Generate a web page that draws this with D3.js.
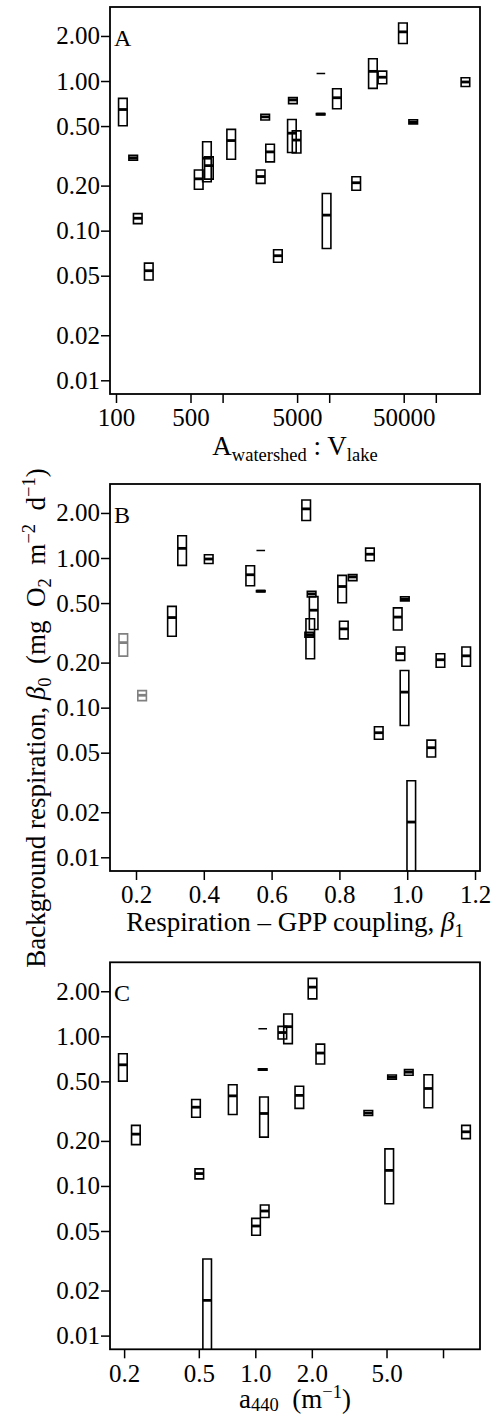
<!DOCTYPE html>
<html>
<head>
<meta charset="utf-8">
<script src="https://cdn.jsdelivr.net/npm/d3@7"></script>
<style>
body { margin: 0; background: #fff; }
svg text { font-family: "Liberation Serif", "Times New Roman", serif; fill: #000; }
</style>
</head>
<body>
<div id="chart"></div>
<script>
// background respiration interval per lake (mg O2 m-2 d-1): upper, median, lower
var respHi  = [0.765, 0.319, 0.130, 0.0607, 0.254, 0.393, 0.311, 0.475, 0.254, 0.599, 0.378, 0.0746, 0.774,
               0.553, 0.464, 1.123, 0.606, 0.177, 0.887, 0.229, 1.41, 1.165, 2.44, 0.551, 1.051, 0.0325];
var respMed = [0.645, 0.307, 0.121, 0.054, 0.222, 0.305, 0.272, 0.400, 0.230, 0.576, 0.336, 0.068, 0.747,
               0.448, 0.403, 1.123, 0.601, 0.127, 0.773, 0.209, 1.16, 1.06, 2.13, 0.532, 0.985, 0.0172];
var respLo  = [0.502, 0.296, 0.1115, 0.0468, 0.189, 0.212, 0.221, 0.300, 0.207, 0.549, 0.288, 0.0615, 0.706,
               0.333, 0.330, 1.123, 0.594, 0.076, 0.653, 0.186, 0.893, 0.959, 1.78, 0.517, 0.920, 0.005];

// predictors (null = not available for that lake)
var watershedRatio = [116, 145, 160, 203, 597, 713, 744, 1204, 2277, 2509, 2790, 3302, 4565,
                      4467, 4945, 8356, 8318, 9454, 11810, 17920, 25700, 31550, 49140, 61390, 189600, null];
var couplingBeta1  = [0.808, 0.711, 0.218, 1.071, 1.174, 0.714, 0.1625, 0.306, 0.980, 0.718, 0.813, 0.916, 0.839,
                      0.724, 0.972, 0.568, 0.568, 0.992, 0.537, 1.098, 0.336, 0.890, 0.702, 0.993, 0.4145, 1.012];
var a440           = [0.197, 4.0, 0.503, 1.009, 0.231, 1.112, null, 0.758, 13.26, 6.57, 0.483, 1.122, null,
                      8.35, 1.716, 1.095, 1.095, 5.17, 2.22, null, 1.494, 1.393, 2.017, 5.35, null, 0.554];

// lakes shown in grey in panel B
var greyLakesB = [2, 6];

var yTicks = [0.01, 0.02, 0.05, 0.1, 0.2, 0.5, 1, 2];
var yTickLabels = ["0.01", "0.02", "0.05", "0.10", "0.20", "0.50", "1.00", "2.00"];
var xTicksA = [100, 500, 1000, 5000, 10000, 50000, 100000];
var xTickLabelsA = ["100", "500", "", "5000", "", "50000", ""];
var xTicksB = [0.2, 0.4, 0.6, 0.8, 1.0, 1.2];
var xTickLabelsB = ["0.2", "0.4", "0.6", "0.8", "1.0", "1.2"];
var xTicksC = [0.2, 0.5, 1, 2, 5, 10];
var xTickLabelsC = ["0.2", "0.5", "1.0", "2.0", "5.0", ""];

function init() {
    var w = 497, h = 1414;
    var left = 110, right = 480, ph = 387;
    var bw = 8.6;
    var font = "Liberation Serif";

    var svg = d3.select("#chart").append("svg")
        .attr("width", w).attr("height", h);

    var panels = [
        { letter: "A", top: 7, x: d3.scaleLog().domain([87.86, 259800]), xv: watershedRatio,
          ticks: xTicksA, labels: xTickLabelsA },
        { letter: "B", top: 484, x: d3.scaleLinear().domain([0.1233, 1.2147]), xv: couplingBeta1,
          ticks: xTicksB, labels: xTickLabelsB },
        { letter: "C", top: 962.3, x: d3.scaleLog().domain([0.1682, 15.74]), xv: a440,
          ticks: xTicksC, labels: xTickLabelsC }
    ];

    panels.forEach(function(p, pi) {
        var bottom = p.top + ph;
        p.x.range([left, right]);
        var y = d3.scaleLog().domain([0.008099, 3.123]).range([bottom, p.top]);

        var clipId = "clip" + pi;
        svg.append("clipPath").attr("id", clipId)
            .append("rect").attr("x", left).attr("y", p.top)
            .attr("width", right - left).attr("height", ph);

        var lakes = d3.range(respMed.length).filter(function(i) { return p.xv[i] != null; });
        var colour = function(i) {
            return (p.letter == "B" && greyLakesB.indexOf(i) >= 0) ? "#808080" : "#000";
        };

        var g = svg.append("g").attr("clip-path", "url(#" + clipId + ")");

        // interval box as a closed path, so a zero-width interval still shows as a dash
        g.selectAll("path.box")
            .data(lakes)
            .enter()
            .append("path")
                .attr("class", "box")
                .attr("d", function(i) {
                    var x0 = p.x(p.xv[i]) - bw / 2, y0 = y(respHi[i]), y1 = y(respLo[i]);
                    return "M" + x0 + "," + y0 + "h" + bw + "V" + y1 + "h" + (-bw) + "Z";
                })
                .attr("fill", "none")
                .attr("stroke", colour)
                .attr("stroke-width", 1.6);

        // median bar (skipped when the interval has no width)
        g.selectAll("line.med")
            .data(lakes.filter(function(i) { return respHi[i] > respLo[i]; }))
            .enter()
            .append("line")
                .attr("class", "med")
                .attr("x1", function(i) { return p.x(p.xv[i]) - bw / 2; })
                .attr("x2", function(i) { return p.x(p.xv[i]) + bw / 2; })
                .attr("y1", function(i) { return y(respMed[i]); })
                .attr("y2", function(i) { return y(respMed[i]); })
                .attr("stroke", colour)
                .attr("stroke-width", 2.8);

        // frame
        svg.append("rect")
            .attr("x", left).attr("y", p.top)
            .attr("width", right - left).attr("height", ph)
            .attr("fill", "none").attr("stroke", "#000").attr("stroke-width", 1.8);

        var yAxis = d3.axisLeft(y)
            .tickValues(yTicks)
            .tickFormat(function(d, i) { return yTickLabels[i]; })
            .tickSize(9).tickSizeOuter(0).tickPadding(1);
        var gy = svg.append("g").attr("transform", "translate(" + left + ",0)").call(yAxis);

        var xAxis = d3.axisBottom(p.x)
            .tickValues(p.ticks)
            .tickFormat(function(d, i) { return p.labels[i]; })
            .tickSize(9).tickSizeOuter(0).tickPadding(5.5);
        var gx = svg.append("g").attr("transform", "translate(0," + bottom + ")").call(xAxis);

        [gy, gx].forEach(function(ax) {
            ax.select(".domain").remove();
            ax.selectAll("line").attr("stroke", "#000").attr("stroke-width", 1.5);
            ax.selectAll("text")
                .attr("fill", "#000")
                .style("font-family", font)
                .style("font-size", "25px");
        });

        svg.append("text")
            .attr("x", 114).attr("y", p.top + 38.5)
            .style("font-size", "24px")
            .text(p.letter);
    });

    function sub(t, s, shift) {
        t.append("tspan").style("font-size", "18.5px").attr("baseline-shift", shift).text(s);
    }

    // x axis titles
    var tA = svg.append("text").attr("x", 295).attr("y", 455).attr("text-anchor", "middle").style("font-size", "27px");
    tA.append("tspan").text("A");
    sub(tA, "watershed", "-6");
    tA.append("tspan").text(" : V");
    sub(tA, "lake", "-6");

    var tB = svg.append("text").attr("x", 295).attr("y", 930.5).attr("text-anchor", "middle").style("font-size", "27px");
    tB.append("tspan").text("Respiration \u2013 GPP coupling, ");
    tB.append("tspan").attr("font-style", "italic").text("\u03b2");
    sub(tB, "1", "-6");

    var tC = svg.append("text").attr("x", 295).attr("y", 1408).attr("text-anchor", "middle").style("font-size", "27px");
    tC.append("tspan").text("a");
    sub(tC, "440", "-3");
    tC.append("tspan").text("\u00a0 (m");
    sub(tC, "\u22121", "10");
    tC.append("tspan").text(")");

    // shared y axis title
    var ty = svg.append("text")
        .attr("transform", "translate(45,718) rotate(-90)")
        .attr("text-anchor", "middle").style("font-size", "27px");
    ty.append("tspan").text("Background respiration, ");
    ty.append("tspan").attr("font-style", "italic").text("\u03b2");
    sub(ty, "0", "-6");
    ty.append("tspan").text("\u00a0 (mg\u00a0 O");
    sub(ty, "2", "-6");
    ty.append("tspan").text("\u00a0 m");
    sub(ty, "\u22122", "10");
    ty.append("tspan").text("\u00a0 d");
    sub(ty, "\u22121", "10");
    ty.append("tspan").text(")");
}
window.onload = init;
</script>
</body>
</html>
